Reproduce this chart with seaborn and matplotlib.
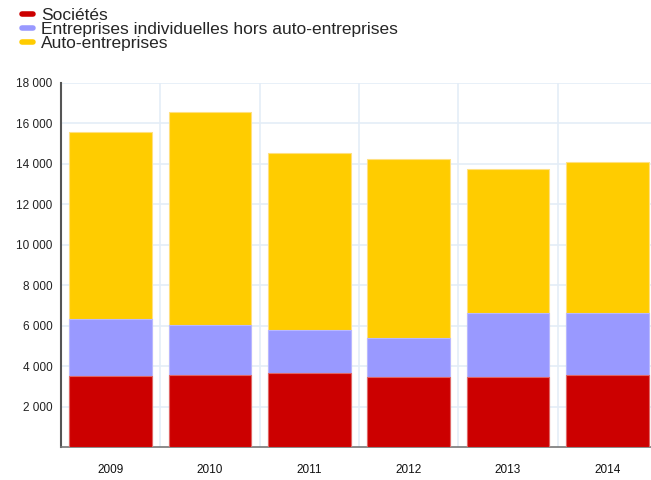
import matplotlib
matplotlib.use("Agg")
import matplotlib.pyplot as plt
from matplotlib.lines import Line2D
import seaborn as sns
import numpy as np
import pandas as pd

years = ["2009", "2010", "2011", "2012", "2013", "2014"]
societes = [3500, 3550, 3680, 3480, 3480, 3550]
entreprises_indiv = [2840, 2490, 2110, 1900, 3140, 3100]
auto_entreprises = [9250, 10540, 8750, 8860, 7110, 7450]

series_names = ["Sociétés",
                "Entreprises individuelles hors auto-entreprises",
                "Auto-entreprises"]
colors = ["#cc0000", "#9999ff", "#ffcc00"]
edge_colors = ["#e06666", "#b8b8ff", "#ffe080"]

df = pd.DataFrame({"year": years,
                   "s1": societes,
                   "s2": entreprises_indiv,
                   "s3": auto_entreprises})
df["c1"] = df["s1"]
df["c2"] = df["c1"] + df["s2"]
df["c3"] = df["c2"] + df["s3"]

sns.set_style("white")
plt.rcParams["font.family"] = ["Liberation Sans", "DejaVu Sans"]

fig = plt.figure(figsize = (6.51, 4.8), dpi = 100)
ax = fig.add_axes([61 / 651, 33 / 480, 1 - 61 / 651, 1 - 33 / 480 - 83 / 480])

# draw cumulative totals from top to bottom so each layer covers the next
for col, color, edge in zip(["c3", "c2", "c1"], colors[::-1], edge_colors[::-1]):
    sns.barplot(data = df, x = "year", y = col, color = color,
                width = 0.835, saturation = 1, edgecolor = edge,
                linewidth = 0.8, ax = ax, zorder = 3)

ax.set_xlim(-0.5, 5.44)
ax.set_ylim(0, 18000)
yticks = np.arange(2000, 18001, 2000)
ax.set_yticks(yticks)
ax.set_yticklabels([f"{t:,}".replace(",", " ") for t in yticks],
                   fontsize = 8.5, color = "#222222")
ax.set_xticks(range(len(years)))
ax.set_xticklabels(years, fontsize = 8.5, color = "#111111")
ax.tick_params(axis = "x", length = 0, pad = 12)
ax.tick_params(axis = "y", length = 4, color = "#e4edf7", pad = 2)
ax.set_xlabel("")
ax.set_ylabel("")

# horizontal grid at the ticks, vertical grid between categories
for t in yticks:
    ax.axhline(t, color = "#e4edf7", linewidth = 1.2, zorder = 1)
for x in np.arange(0.5, 5.5, 1):
    ax.axvline(x, color = "#e4edf7", linewidth = 1.2, zorder = 1)

for side in ["top", "right"]:
    ax.spines[side].set_visible(False)
ax.spines["left"].set_color("#555555")
ax.spines["left"].set_linewidth(1.5)
ax.spines["bottom"].set_color("#777777")
ax.spines["bottom"].set_linewidth(1.2)

handles = [Line2D([0], [0], color = c, linewidth = 4) for c in colors]
fig.legend(handles, series_names, loc = "upper left",
           bbox_to_anchor = (0.034, 0.984), frameon = False,
           fontsize = 12.5, handlelength = 0.65, handletextpad = 0.45,
           labelspacing = -0.05, borderaxespad = 0, borderpad = 0)

plt.savefig("out.png", dpi = 100)
plt.close()
